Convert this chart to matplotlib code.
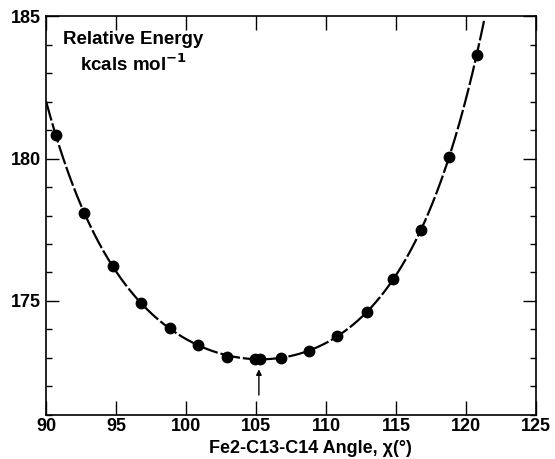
import numpy as np
import matplotlib
matplotlib.use("Agg")
import matplotlib.pyplot as plt

plt.rcParams['font.family'] = ['Liberation Sans', 'DejaVu Sans']
plt.rcParams['font.weight'] = 'bold'

# angle (deg) vs relative energy (kcal/mol)
angle = [90.7, 92.7, 94.75, 96.8, 98.85, 100.85, 102.9, 104.95, 105.25,
         106.75, 108.75, 110.8, 112.9, 114.8, 116.8, 118.75, 120.75]
energy = [180.82, 178.1, 176.23, 174.93, 174.04, 173.44, 173.04, 172.98, 172.98,
          173.0, 173.24, 173.78, 174.61, 175.76, 177.49, 180.04, 183.62]
curve_range = [90.0, 121.3]
minimum_angle = 105.2

xticks = [90, 95, 100, 105, 110, 115, 120, 125]
yticks = [175, 180, 185]

fig = plt.figure(figsize=(5.55, 4.59), dpi=100)
ax = fig.add_axes([0.083, 0.096, 0.883, 0.869])

# smooth curve through the points
coef = np.polyfit(angle, energy, 6)
xs = np.linspace(curve_range[0], curve_range[1], 300)
ax.plot(xs, np.polyval(coef, xs), color='black', lw=1.6,
        linestyle=(0, (9, 1.3)), zorder=2)
ax.plot(angle, energy, 'o', color='black', ms=7.5, zorder=3)

ax.annotate('', xy=(minimum_angle, 172.7), xytext=(minimum_angle, 171.6),
            arrowprops=dict(arrowstyle='-|>', color='black', lw=1.0,
                            mutation_scale=8))

ax.set_xlim(90, 125)
ax.set_ylim(171, 185)
ax.set_xticks(xticks)
ax.set_yticks(yticks)
ax.set_yticks(np.arange(171, 185), minor=True)
ax.tick_params(which='major', direction='in', length=9.5, width=1.0,
               top=True, right=True, labelsize=13, pad=4)
ax.tick_params(which='minor', direction='in', length=4.5, width=1.0,
               right=True, left=True)
ax.tick_params(axis='x', which='major', length=10, pad=2)
for s in ax.spines.values():
    s.set_linewidth(1.2)

ax.text(0.113, 0.915, 'Relative Energy', transform=fig.transFigure,
        fontsize=13.5, fontweight='bold', va='center')
ax.text(0.145, 0.86, r'kcals mol$^{\mathbf{-1}}$', transform=fig.transFigure,
        fontsize=13.5, fontweight='bold', va='center')

ax.set_xlabel('Fe2-C13-C14 Angle, χ(°)', fontsize=13, fontweight='bold')
ax.xaxis.set_label_coords(0.54, -0.062)

fig.savefig('out.png', dpi=100)
